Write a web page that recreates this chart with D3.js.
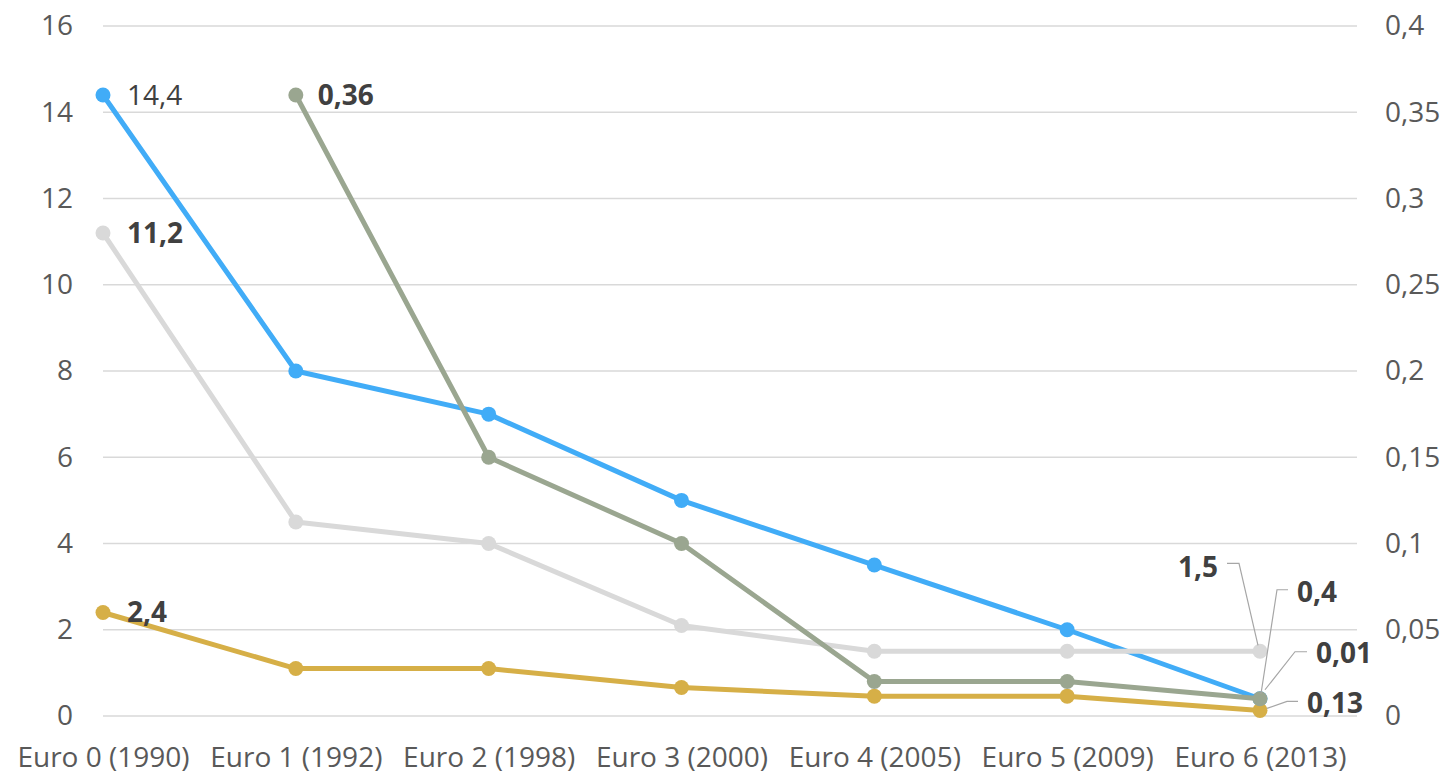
<!DOCTYPE html>
<html>
<head>
<meta charset="utf-8">
<script src="https://cdn.jsdelivr.net/npm/d3@7"></script>
<style>
  html, body { margin: 0; padding: 0; background: #ffffff; }
  svg { display: block; font-family: "Open Sans", sans-serif; }
</style>
</head>
<body>
<svg id="chart" width="1446" height="774"></svg>
<script>
// ---- Data ----
const categories = ["Euro 0 (1990)", "Euro 1 (1992)", "Euro 2 (1998)", "Euro 3 (2000)", "Euro 4 (2005)", "Euro 5 (2009)", "Euro 6 (2013)"];
const blueValues  = [14.4, 8, 7, 5, 3.5, 2, 0.4];          // left axis
const lightValues = [11.2, 4.5, 4, 2.1, 1.5, 1.5, 1.5];    // left axis
const goldValues  = [2.4, 1.1, 1.1, 0.66, 0.46, 0.46, 0.13]; // left axis
const greenValues = [null, 0.36, 0.15, 0.1, 0.02, 0.02, 0.01]; // right axis
const leftTicks  = [0, 2, 4, 6, 8, 10, 12, 14, 16];
const rightTicks = [0, 0.05, 0.1, 0.15, 0.2, 0.25, 0.3, 0.35, 0.4];

// ---- Layout ----
const svg = d3.select("#chart");
const plotLeft = 103, plotRight = 1357, plotTop = 26, plotBottom = 716;

const x = d3.scalePoint().domain(categories).range([103, 1260]);
const yL = d3.scaleLinear().domain([0, 16]).range([plotBottom, plotTop]);
const yR = d3.scaleLinear().domain([0, 0.4]).range([plotBottom, plotTop]);

const locale = d3.formatLocale({ decimal: ",", thousands: ".", grouping: [3], currency: ["", "€"] });
const fmt = v => locale.format("~g")(v);

const axisColor = "#595959";
const labelColor = "#404040";

// Gridlines
svg.append("g").selectAll("line").data(leftTicks).join("line")
  .attr("x1", plotLeft).attr("x2", plotRight)
  .attr("y1", d => yL(d)).attr("y2", d => yL(d))
  .attr("stroke", "#d9d9d9").attr("stroke-width", 1.4);

// Left axis
const leftAxis = svg.append("g").attr("transform", `translate(${plotLeft},0)`)
  .call(d3.axisLeft(yL).tickValues(leftTicks).tickFormat(fmt).tickSize(0).tickPadding(30));
leftAxis.select(".domain").remove();
leftAxis.selectAll("text").attr("fill", axisColor).style("font-size", "28px").style("font-family", "Open Sans");

// Right axis
const rightAxis = svg.append("g").attr("transform", `translate(${plotRight},0)`)
  .call(d3.axisRight(yR).tickValues(rightTicks).tickFormat(fmt).tickSize(0).tickPadding(28));
rightAxis.select(".domain").remove();
rightAxis.selectAll("text").attr("fill", axisColor).style("font-size", "28px").style("font-family", "Open Sans");

// Bottom axis
const bottomAxis = svg.append("g").attr("transform", `translate(0,${plotBottom})`)
  .call(d3.axisBottom(x).tickSize(0).tickPadding(31));
bottomAxis.select(".domain").remove();
bottomAxis.selectAll("text").attr("fill", axisColor).style("font-size", "28px").style("font-family", "Open Sans");

// Series
const series = [
  { values: blueValues,  scale: yL, color: "#41acf7" },
  { values: lightValues, scale: yL, color: "#d9d9d9" },
  { values: goldValues,  scale: yL, color: "#d6af47" },
  { values: greenValues, scale: yR, color: "#9aa690" }
];

series.forEach(s => {
  const pts = categories.map((c, i) => ({ c, v: s.values[i] }));
  const line = d3.line().defined(d => d.v !== null).x(d => x(d.c)).y(d => s.scale(d.v));
  svg.append("path").datum(pts)
    .attr("d", line).attr("fill", "none")
    .attr("stroke", s.color).attr("stroke-width", 5).attr("stroke-linejoin", "round");
  svg.append("g").selectAll("circle").data(pts.filter(d => d.v !== null)).join("circle")
    .attr("cx", d => x(d.c)).attr("cy", d => s.scale(d.v)).attr("r", 7.5)
    .attr("fill", s.color);
});

// Data labels
function label(text, px, py, bold, anchor) {
  svg.append("text").attr("x", px).attr("y", py).attr("dy", "0.35em")
    .attr("text-anchor", anchor || "start")
    .attr("fill", labelColor)
    .style("font-size", "28px").style("font-weight", bold ? 700 : 400)
    .text(text);
}
function leader(pts) {
  svg.append("polyline").attr("points", pts.map(p => p.join(",")).join(" "))
    .attr("fill", "none").attr("stroke", "#a6a6a6").attr("stroke-width", 1.2);
}

// start labels
label(fmt(blueValues[0]),  x(categories[0]) + 24, yL(blueValues[0]), false);
label(fmt(lightValues[0]), x(categories[0]) + 24, yL(lightValues[0]), true);
label(fmt(goldValues[0]),  x(categories[0]) + 24, yL(goldValues[0]), true);
label(fmt(greenValues[1]), x(categories[1]) + 22, yR(greenValues[1]), true);

// end labels with leader lines
const last = categories.length - 1;
const ex = x(categories[last]);
{
  const py = yL(lightValues[last]);
  leader([[ex - 33, py - 88], [ex - 21, py - 88], [ex - 2, py - 6]]);
  label(fmt(lightValues[last]), ex - 42, py - 84, true, "end");
}
{
  const py = yL(blueValues[last]);
  leader([[ex + 28, py - 109], [ex + 17, py - 109], [ex + 1, py - 5]]);
  label(fmt(blueValues[last]), ex + 37, py - 107, true);
}
{
  const py = yR(greenValues[last]);
  leader([[ex + 47, py - 47], [ex + 35, py - 47], [ex + 5, py - 9]]);
  label(fmt(greenValues[last]), ex + 56, py - 46, true);
}
{
  const py = yL(goldValues[last]);
  leader([[ex + 38, py - 9], [ex + 27, py - 9], [ex + 7, py - 2]]);
  label(fmt(goldValues[last]), ex + 47, py - 7, true);
}
</script>
</body>
</html>
